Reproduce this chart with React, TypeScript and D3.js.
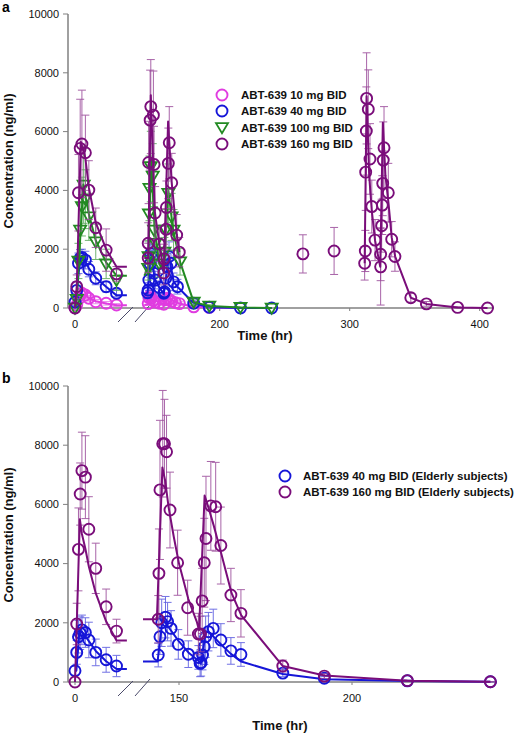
import React from "react";
import * as d3 from "d3";

type P = [number, number];

// ---------- Panel a : left segment (0-12 h) ----------
const aLeftTime = [0, 0.5, 1, 1.5, 2, 3, 4, 6, 9, 12];
const a10LeftMean = [0, 100, 300, 450, 500, 440, 330, 215, 160, 100];
const a10LeftSD = [0, 60, 120, 150, 150, 120, 90, 70, 60, 50];
const a40LeftMean = [200, 600, 1520, 1690, 1720, 1630, 1320, 1010, 725, 500];
const a40LeftSD = [120, 300, 350, 300, 280, 300, 260, 220, 180, 120];
const a100LeftTime = [0, 0.5, 1, 1.5, 2, 2.5, 3, 4, 6, 9, 12];
const a100LeftMean = [0, 300, 1600, 2650, 3450, 4180, 3700, 3100, 2250, 1500, 950];
const a100LeftSD = [0, 150, 600, 900, 1000, 1300, 1000, 800, 600, 500, 350];
const a160LeftMean = [0, 725, 3920, 5430, 5580, 5280, 4010, 2730, 1970, 1160];
const a160LeftSD = [0, 400, 1300, 1670, 1830, 1280, 1000, 670, 720, 250];
const a10LeftLine: P[] = [[0, 0], [0.5, 100], [2, 480], [3, 430], [4, 340], [6, 230], [9, 150], [12, 90], [15, 90]];
const a40LeftLine: P[] = [[0, 200], [0.5, 500], [1.5, 1700], [2.2, 1750], [4, 1350], [6, 1030], [9, 720], [12, 430], [15, 430]];
const a100LeftLine: P[] = [[0, 0], [0.5, 300], [2.4, 4200], [4, 3200], [6, 2300], [9, 1550], [12, 1100], [15, 1100]];
const a160LeftLine: P[] = [[0, 0], [0.5, 725], [1.7, 5650], [3, 5100], [4, 4100], [6, 2900], [9, 2000], [12, 1400], [15, 1400]];

// ---------- Panel a : right segment ----------
const a10RightTime = [145, 145.5, 146.5, 147.5, 149, 150.5, 153.5, 157, 158, 159.5, 161, 163, 166, 169, 180, 192];
const a10RightMean = [150, 350, 420, 330, 260, 200, 160, 130, 280, 330, 300, 230, 180, 150, 40, 20];
const a10RightSD = [60, 120, 150, 120, 100, 80, 60, 50, 100, 120, 110, 90, 70, 60, 20, 10];
const a10RightLine: P[] = [[142, 100], [145, 120], [147, 420], [153.5, 170], [157, 120], [160, 330], [169, 150], [180, 40], [192, 20], [216, 5]];

const a40RightTime = [144.5, 145, 145.5, 146.5, 147, 148, 149.5, 150.5, 153.5, 157, 157.5, 158.5, 159.5, 161, 162.5, 164.5, 167.5, 180, 192, 216, 240];
const a40RightMean = [520, 610, 950, 1500, 1850, 1700, 1180, 950, 700, 500, 550, 1010, 1400, 1750, 1520, 890, 725, 160, 25, 0, 0];
const a40RightSD = [200, 250, 350, 450, 500, 450, 350, 300, 220, 180, 200, 350, 450, 500, 450, 300, 250, 80, 20, 0, 0];
const a40RightLine: P[] = [[142, 450], [144.5, 520], [147, 1900], [150, 1000], [153.5, 700], [157, 480], [161, 1750], [164.5, 900], [167.5, 725], [180, 160], [192, 25], [216, 0], [240, 0]];

const a100RightTime = [145, 145.3, 145.6, 146, 147, 148.5, 149.5, 150.5, 153.5, 157.5, 158.5, 160.5, 163, 164.5, 169.5, 180, 192, 216, 240];
const a100RightMean = [1350, 1750, 3200, 4070, 4810, 4490, 2650, 2200, 1500, 1900, 2650, 3900, 3100, 2650, 1570, 200, 70, 20, 0];
const a100RightSD = [400, 500, 900, 1100, 1200, 1100, 800, 600, 450, 500, 700, 1000, 800, 700, 450, 100, 40, 10, 0];
const a100RightLine: P[] = [[142, 1100], [145, 1350], [147.2, 5100], [150, 2700], [153.5, 1500], [157, 1300], [160.5, 4000], [164, 2700], [169.5, 1570], [180, 200], [192, 70], [216, 20], [240, 0]];

const a160RightTime = [145, 145, 145.3, 146.5, 147, 149, 149.5, 150.3, 153.5, 157, 157.2, 158.8, 159, 160.5, 161.2, 163.1, 166.9, 168.9];
const a160RightMean = [1700, 2200, 4950, 6390, 6850, 6560, 4880, 3230, 2180, 1190, 1670, 2680, 3420, 4920, 5620, 4260, 2480, 1900];
const a160RightSD = [500, 700, 1400, 1700, 1600, 1500, 1300, 900, 600, 400, 500, 700, 900, 1200, 1230, 1000, 700, 500];
const a160RightLine: P[] = [[142, 1700], [145, 1700], [147, 7240], [150, 3300], [153.5, 2200], [157, 1200], [160.3, 6340], [163, 4300], [167, 2500], [169, 1900]];

const a160TroughTime = [264, 288];
const a160TroughMean = [1840, 1940];
const a160TroughSD = [650, 800];

const a160Day14Time = [311.5, 312, 312.3, 312.8, 313, 314.3, 315.6, 317, 319.5, 323.8, 323.8, 324.6, 325.1, 325.4, 325.8, 326.4, 329.7, 332.3, 334.8, 347, 359, 383, 406];
const a160Day14Mean = [1520, 1940, 4620, 6020, 7130, 6760, 5070, 3450, 2310, 1400, 1830, 2800, 3500, 4240, 5030, 5450, 3920, 2340, 1750, 350, 140, 20, 0];
const a160Day14SD = [570, 700, 1300, 1500, 1550, 1340, 1200, 900, 700, 1300, 900, 900, 1000, 1100, 1300, 1400, 1000, 600, 500, 150, 80, 20, 0];
const a160Day14Line: P[] = [[311.5, 1520], [313, 7200], [315, 4500], [317, 3300], [319.5, 2300], [323.5, 1400], [325.5, 6300], [327.5, 4500], [330, 3500], [332.3, 2400], [335, 1750], [347, 350], [359, 140], [383, 20], [406, 0]];

// ---------- Panel b ----------
const bLeftTime = [0, 0.5, 1, 1.5, 2, 3, 4, 6, 9, 12];
const b40LeftMean = [380, 1000, 1530, 1650, 1760, 1670, 1420, 1000, 750, 540];
const b40LeftSD = [150, 400, 550, 550, 500, 500, 600, 450, 420, 360];
const b160LeftMean = [0, 1960, 4480, 6350, 7140, 6920, 5160, 3840, 2540, 1720];
const b160LeftSD = [0, 700, 1400, 1050, 1300, 1400, 1100, 850, 600, 400];
const b40LeftLine: P[] = [[0, 370], [0.4, 380], [1.3, 1750], [2, 1700], [3, 1550], [4, 1380], [6, 1050], [9, 700], [12, 440], [15, 440]];
const b160LeftLine: P[] = [[0, 0], [0.4, 1500], [1.4, 5500], [2, 5000], [3, 4500], [4, 3900], [6, 3000], [9, 2050], [12, 1400], [15, 1400]];

const b40RightTime = [144, 144.5, 145, 146.1, 146.7, 147.7, 149.8, 152.7, 155.6, 156.1, 156.4, 156.8, 157.3, 157.7, 158.5, 159.9, 162.1, 165, 167.9, 180, 192, 216, 240];
const b40RightMean = [910, 1530, 2000, 2190, 2040, 1810, 1270, 940, 830, 630, 650, 910, 1190, 1530, 1700, 1810, 1420, 1050, 930, 300, 125, 40, 10];
const b40RightSD = [400, 600, 800, 700, 650, 600, 500, 450, 400, 450, 450, 500, 600, 700, 650, 650, 550, 450, 400, 120, 60, 20, 5];
const b40RightLine: P[] = [[139.6, 690], [143.8, 690], [145.3, 2150], [147, 1850], [149.8, 1400], [152.7, 1000], [155.6, 720], [156.3, 620], [157.8, 1700], [159, 1650], [162.3, 1250], [165, 950], [168, 690], [180, 270], [192, 90], [216, 35], [240, 10]];

const b160RightTime = [144, 144.2, 144.5, 145.3, 145.8, 146.4, 147.4, 149.6, 152.5, 155.6, 156.2, 156.7, 157.3, 157.8, 159.2, 160.6, 162.1, 165, 167.9, 180, 192, 216, 240];
const b160RightMean = [2120, 3670, 6490, 8050, 8050, 7780, 5810, 4030, 2510, 1620, 1620, 2740, 4030, 4850, 5950, 5920, 4610, 2940, 2320, 540, 200, 45, 10];
const b160RightSD = [800, 1500, 2350, 1800, 1500, 1230, 1280, 1100, 930, 700, 600, 1100, 1500, 2100, 1500, 1500, 1300, 900, 800, 200, 80, 20, 5];
const b160RightLine: P[] = [[139.6, 2120], [143.6, 2120], [145.2, 7250], [146, 6800], [147, 5900], [148.5, 4900], [150, 4000], [152.7, 2800], [155.1, 2050], [155.8, 1750], [157.4, 6300], [158.5, 5900], [160, 5300], [162.3, 4300], [165.2, 3000], [168, 2250], [180, 540], [192, 220], [216, 45], [240, 10]];

const yTicks = [0, 2000, 4000, 6000, 8000, 10000];
const aLegend = ["ABT-639 10 mg BID", "ABT-639 40 mg BID", "ABT-639 100 mg BID", "ABT-639 160 mg BID"];
const bLegend = ["ABT-639 40 mg BID (Elderly subjects)", "ABT-639 160 mg BID (Elderly subjects)"];

const COL = { m: "#e03ce0", b: "#1616d8", g: "#228a22", p: "#7a0d7a" };
const EB = { m: "#e77ae7", b: "#5a5ae0", g: "#5aa85a", p: "#9a4a9a" };
const FONT = "'Liberation Sans', Arial, sans-serif";
const AXC = "#808080";

type Shape = "circle" | "tri";

function Marker({ cx, cy, color, shape }: { cx: number; cy: number; color: string; shape: Shape }) {
  if (shape === "tri") {
    return <path d={`M${cx - 6},${cy - 4.4}L${cx + 6},${cy - 4.4}L${cx},${cy + 5.8}Z`} fill="none" stroke={color} strokeWidth={1.8} />;
  }
  return <circle cx={cx} cy={cy} r={5.5} fill="none" stroke={color} strokeWidth={1.9} />;
}

function Series({ t, m, sd, line, x, y, color, eb, shape }: {
  t: number[]; m: number[]; sd: number[]; line?: P[];
  x: (v: number) => number; y: d3.ScaleLinear<number, number>;
  color: string; eb: string; shape: Shape;
}) {
  const gen = d3.line<P>().x((d) => x(d[0])).y((d) => y(d[1]));
  return (
    <g>
      {t.map((tt, i) => {
        if (!sd[i]) return null;
        const cx = x(tt);
        const hi = y(m[i] + sd[i]);
        const lo = y(Math.max(0, m[i] - sd[i]));
        return (
          <g key={"e" + i} stroke={eb} strokeWidth={1} opacity={0.85}>
            <line x1={cx} x2={cx} y1={hi} y2={lo} />
            <line x1={cx - 4} x2={cx + 4} y1={hi} y2={hi} />
            <line x1={cx - 4} x2={cx + 4} y1={lo} y2={lo} />
          </g>
        );
      })}
      {line && <path d={gen(line) || ""} fill="none" stroke={color} strokeWidth={2} strokeLinejoin="round" />}
      {t.map((tt, i) => (
        <Marker key={"m" + i} cx={x(tt)} cy={y(m[i])} color={color} shape={shape} />
      ))}
    </g>
  );
}

function Axes({ y, x, xTicks, axisEnd, label, labelY, timeX, timeY }: {
  y: d3.ScaleLinear<number, number>; x: (v: number) => number; xTicks: number[];
  axisEnd: number; label: string; labelY: number; timeX: number; timeY: number;
}) {
  const y0 = y(0);
  return (
    <g fontFamily={FONT}>
      <line x1={68} x2={68} y1={y(10000)} y2={y0} stroke={AXC} strokeWidth={1.5} />
      <line x1={68} x2={axisEnd} y1={y0} y2={y0} stroke={AXC} strokeWidth={1.5} />
      {yTicks.map((v) => (
        <g key={v}>
          <line x1={63} x2={68} y1={y(v)} y2={y(v)} stroke={AXC} strokeWidth={1} />
          <text x={59} y={y(v)} dy="0.35em" textAnchor="end" fontSize={11} fill="#111">{v}</text>
        </g>
      ))}
      {xTicks.map((v) => (
        <g key={v}>
          <line x1={x(v)} x2={x(v)} y1={y0} y2={y0 + 3} stroke={AXC} strokeWidth={1} />
          <text x={x(v)} y={y0 + 20} textAnchor="middle" fontSize={11} fill="#111">{v}</text>
        </g>
      ))}
      <line x1={118} x2={133} y1={y0 + 14} y2={y0 - 1} stroke="#4a4a6a" strokeWidth={1} />
      <line x1={135} x2={150} y1={y0 + 14} y2={y0 - 3} stroke="#4a4a6a" strokeWidth={1} />
      <text transform={`translate(13,${labelY}) rotate(-90)`} textAnchor="middle" fontSize={13} fontWeight="bold" fill="#111">{label}</text>
      <text x={timeX} y={timeY} textAnchor="middle" fontSize={13} fontWeight="bold" fill="#111">Time (hr)</text>
    </g>
  );
}

export default function App() {
  const yA = d3.scaleLinear().domain([0, 10000]).range([308, 14]);
  const xAL = d3.scaleLinear().domain([0, 12]).range([75, 116.5]);
  const xAR = d3.scaleLinear().domain([200, 400]).range([219.7, 479.7]);
  const xA = (t: number) => (t < 60 ? xAL(t) : xAR(t));
  const yB = d3.scaleLinear().domain([0, 10000]).range([682, 386]);
  const xBL = d3.scaleLinear().domain([0, 12]).range([75, 116.5]);
  const xBR = d3.scaleLinear().domain([150, 200]).range([179, 352]);
  const xB = (t: number) => (t < 60 ? xBL(t) : xBR(t));

  const aCols = [COL.m, COL.b, COL.g, COL.p];
  const aShapes: Shape[] = ["circle", "circle", "tri", "circle"];
  const aLegY = [95, 111, 127.5, 144];
  const bCols = [COL.b, COL.p];
  const bLegY = [476, 492];

  return (
    <svg width={520} height={734} style={{ position: "absolute", left: 0, top: 0, background: "#fff" }}>
      <rect width={520} height={734} fill="#fff" />
      <text x={2} y={12} fontFamily={FONT} fontWeight="bold" fontSize={14}>a</text>
      <Axes y={yA} x={xA} xTicks={[0, 200, 300, 400]} axisEnd={494} label="Concentration (ng/ml)" labelY={161} timeX={265} timeY={340} />
      <Series t={aLeftTime} m={a10LeftMean} sd={a10LeftSD} line={a10LeftLine} x={xA} y={yA} color={COL.m} eb={EB.m} shape="circle" />
      <Series t={a10RightTime} m={a10RightMean} sd={a10RightSD} line={a10RightLine} x={xA} y={yA} color={COL.m} eb={EB.m} shape="circle" />
      <Series t={aLeftTime} m={a40LeftMean} sd={a40LeftSD} line={a40LeftLine} x={xA} y={yA} color={COL.b} eb={EB.b} shape="circle" />
      <Series t={a40RightTime} m={a40RightMean} sd={a40RightSD} line={a40RightLine} x={xA} y={yA} color={COL.b} eb={EB.b} shape="circle" />
      <Series t={a100LeftTime} m={a100LeftMean} sd={a100LeftSD} line={a100LeftLine} x={xA} y={yA} color={COL.g} eb={EB.g} shape="tri" />
      <Series t={a100RightTime} m={a100RightMean} sd={a100RightSD} line={a100RightLine} x={xA} y={yA} color={COL.g} eb={EB.g} shape="tri" />
      <Series t={aLeftTime} m={a160LeftMean} sd={a160LeftSD} line={a160LeftLine} x={xA} y={yA} color={COL.p} eb={EB.p} shape="circle" />
      <Series t={a160RightTime} m={a160RightMean} sd={a160RightSD} line={a160RightLine} x={xA} y={yA} color={COL.p} eb={EB.p} shape="circle" />
      <Series t={a160TroughTime} m={a160TroughMean} sd={a160TroughSD} x={xA} y={yA} color={COL.p} eb={EB.p} shape="circle" />
      <Series t={a160Day14Time} m={a160Day14Mean} sd={a160Day14SD} line={a160Day14Line} x={xA} y={yA} color={COL.p} eb={EB.p} shape="circle" />
      <g fontFamily={FONT}>
        {aLegend.map((s, i) => (
          <g key={s}>
            <Marker cx={222} cy={aLegY[i]} color={aCols[i]} shape={aShapes[i]} />
            <text x={241} y={aLegY[i]} dy="0.36em" fontSize={11.5} fontWeight="bold" fill="#111">{s}</text>
          </g>
        ))}
      </g>

      <text x={2} y={383} fontFamily={FONT} fontWeight="bold" fontSize={14}>b</text>
      <Axes y={yB} x={xB} xTicks={[0, 150, 200]} axisEnd={497} label="Concentration (ng/ml)" labelY={535} timeX={280} timeY={730} />
      <Series t={bLeftTime} m={b40LeftMean} sd={b40LeftSD} line={b40LeftLine} x={xB} y={yB} color={COL.b} eb={EB.b} shape="circle" />
      <Series t={b40RightTime} m={b40RightMean} sd={b40RightSD} line={b40RightLine} x={xB} y={yB} color={COL.b} eb={EB.b} shape="circle" />
      <Series t={bLeftTime} m={b160LeftMean} sd={b160LeftSD} line={b160LeftLine} x={xB} y={yB} color={COL.p} eb={EB.p} shape="circle" />
      <Series t={b160RightTime} m={b160RightMean} sd={b160RightSD} line={b160RightLine} x={xB} y={yB} color={COL.p} eb={EB.p} shape="circle" />
      <g fontFamily={FONT}>
        {bLegend.map((s, i) => (
          <g key={s}>
            <Marker cx={285} cy={bLegY[i]} color={bCols[i]} shape="circle" />
            <text x={303} y={bLegY[i]} dy="0.36em" fontSize={11.5} fontWeight="bold" fill="#111">{s}</text>
          </g>
        ))}
      </g>
    </svg>
  );
}
